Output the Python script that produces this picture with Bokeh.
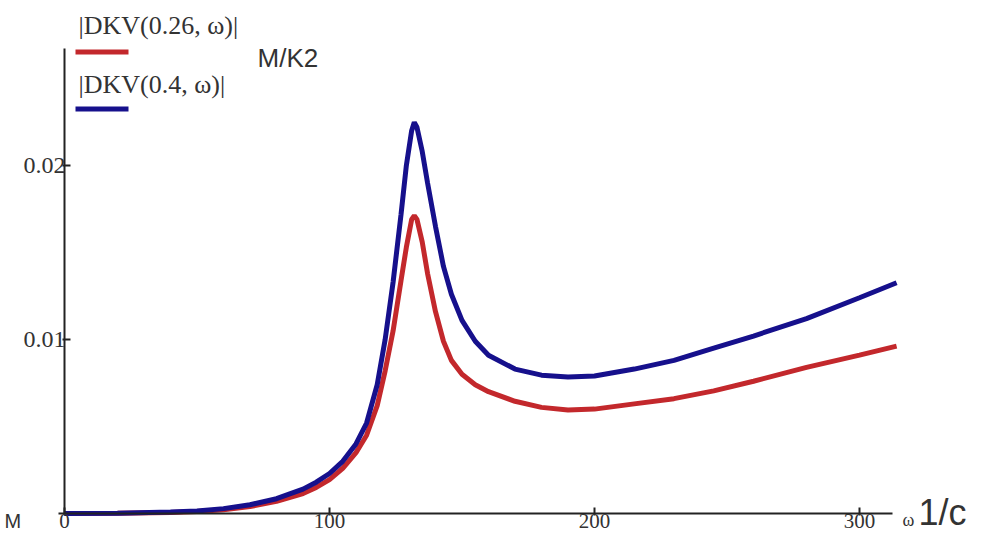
from bokeh.plotting import figure
from bokeh.models import FixedTicker, Label, BoxAnnotation, Range1d
from bokeh.embed import file_html
from bokeh.resources import INLINE

# omega (1/c)
omega = [0, 20, 40, 50, 60, 70, 80, 90, 95, 100, 105, 110, 114, 118, 121, 124,
         127, 129, 131, 132, 133, 135, 137, 140, 143, 146, 150, 155, 160, 170,
         180, 190, 200, 215, 230, 245, 260, 280, 300, 314]

# |DKV(0.4, w)|
dkv_04 = [0.0, 0.00002, 0.00008, 0.00015, 0.00028, 0.00050, 0.00085, 0.00140,
          0.00180, 0.00230, 0.00300, 0.00400, 0.00520, 0.00740, 0.01000,
          0.01330, 0.01720, 0.02000, 0.02200, 0.02248, 0.02220, 0.02080,
          0.01900, 0.01650, 0.01420, 0.01260, 0.01110, 0.00990, 0.00910,
          0.00830, 0.00795, 0.00785, 0.00790, 0.00830, 0.00880, 0.00950,
          0.01020, 0.01120, 0.01240, 0.01326]

# |DKV(0.26, w)|
dkv_026 = [0.0, 0.00001, 0.00006, 0.00012, 0.00022, 0.00040, 0.00070, 0.00115,
           0.00150, 0.00195, 0.00260, 0.00350, 0.00450, 0.00620, 0.00820,
           0.01050, 0.01340, 0.01530, 0.01690, 0.01712, 0.01690, 0.01560,
           0.01380, 0.01160, 0.00990, 0.00880, 0.00800, 0.00740, 0.00700,
           0.00645, 0.00610, 0.00595, 0.00600, 0.00630, 0.00660, 0.00705,
           0.00760, 0.00840, 0.00910, 0.00962]

x_ticks = [0, 100, 200, 300]
y_ticks = [0.01, 0.02]
legend_026 = "|DKV(0.26, \u03c9)|"
legend_04 = "|DKV(0.4, \u03c9)|"
y_unit = "M/K2"
x_unit = "1/c"

RED = "#c3282c"
BLUE = "#16108c"

W, H = 968, 537

p = figure(width=W, height=H, output_backend="svg", toolbar_location=None,
           x_range=Range1d(-24.151, 341.132), y_range=Range1d(-0.001379, 0.029483),
           min_border=0)
p.outline_line_color = None
p.xgrid.visible = False
p.ygrid.visible = False
p.background_fill_color = "white"
p.border_fill_color = "white"

p.line(omega, dkv_026, line_color=RED, line_width=5)
p.line(omega, dkv_04, line_color=BLUE, line_width=5)

xa = p.xaxis[0]
xa.fixed_location = 0
xa.bounds = (-2.3, 312.5)
xa.ticker = FixedTicker(ticks=x_ticks)
xa.minor_tick_line_color = None
xa.major_tick_in = 6
xa.major_tick_out = 2
xa.major_label_standoff = -2
xa.axis_line_width = 2
xa.axis_line_color = "#222222"
xa.major_tick_line_color = "#222222"
xa.major_tick_line_width = 2
xa.major_label_text_font = "Liberation Serif"
xa.major_label_text_font_size = "21px"
xa.major_label_text_color = "#333333"

ya = p.yaxis[0]
ya.fixed_location = 0
ya.bounds = (0, 0.02672)
ya.ticker = FixedTicker(ticks=y_ticks)
ya.minor_tick_line_color = None
ya.major_tick_in = 6
ya.major_tick_out = 2
ya.major_label_standoff = -3
ya.axis_line_width = 2
ya.axis_line_color = "#222222"
ya.major_tick_line_color = "#222222"
ya.major_tick_line_width = 2
ya.major_label_text_font = "Liberation Serif"
ya.major_label_text_font_size = "24px"
ya.major_label_text_color = "#333333"


def lab(text, x, baseline, font, size, color="#333333"):
    # x, baseline given in canvas pixels from the top-left corner
    shift = 0.41 * size
    p.add_layout(Label(x=x, y=H - (baseline - shift), x_units="screen", y_units="screen",
                       text=text, text_font=font, text_font_size=f"{size}px",
                       text_color=color, text_baseline="alphabetic", text_align="left"))


def swatch(color, x0, x1, y0, y1):
    p.add_layout(BoxAnnotation(left=x0, right=x1, bottom=H - y1, top=H - y0,
                               left_units="screen", right_units="screen",
                               bottom_units="screen", top_units="screen",
                               fill_color=color, fill_alpha=1, line_color=None))


lab(legend_026, 78, 36, "Liberation Serif", 26)
swatch(RED, 75, 128, 49, 54)
lab(legend_04, 78, 95, "Liberation Serif", 26)
swatch(BLUE, 75, 128, 106, 111)
lab(y_unit, 257, 68, "Liberation Sans", 26)
lab("M", 4, 529, "Liberation Sans", 20)
lab("\u03c9", 902, 527, "Liberation Serif", 18)
lab(x_unit, 918, 527, "Liberation Sans", 36)

open("out.html", "w").write(file_html(p, INLINE))
